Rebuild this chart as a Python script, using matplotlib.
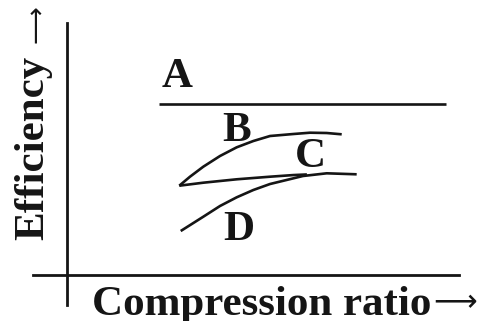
import numpy as np
import matplotlib.pyplot as plt

# efficiency vs compression ratio (arbitrary units)
a_x = [2.35, 9.67]
a_y = [6.79, 6.79]

b_x = [2.865, 3.138, 3.477, 3.903, 4.329, 4.753, 5.179, 5.773, 6.199, 6.625, 7.008]
b_y = [3.544, 3.901, 4.298, 4.722, 5.067, 5.317, 5.516, 5.595, 5.647, 5.635, 5.583]

c_x = [2.865, 3.477, 4.329, 5.179, 5.773, 6.12]
c_y = [3.544, 3.663, 3.798, 3.901, 3.966, 3.99]

d_x = [2.901, 3.477, 3.903, 4.329, 4.753, 5.179, 6.020, 6.625, 7.390]
d_y = [1.746, 2.313, 2.738, 3.083, 3.373, 3.611, 3.929, 4.036, 3.996]

labels = ['A', 'B', 'C', 'D']
label_x = [2.81, 4.34, 6.20, 4.375]
label_y = [7.46, 5.32, 4.30, 1.39]

serif = ['Liberation Serif', 'DejaVu Serif']
ink = '#151515'

fig = plt.figure(figsize=(4.78, 3.21), dpi=100)
ax = fig.add_axes([0, 0, 1, 1])
ax.set_xlim(-1.709, 10.485)
ax.set_ylim(-1.825, 10.913)

# axes drawn as crossing lines through the origin
for s in ['top', 'right']:
    ax.spines[s].set_visible(False)
ax.spines['left'].set_position(('data', 0))
ax.spines['bottom'].set_position(('data', 0))
ax.spines['left'].set_bounds(-1.19, 10)
ax.spines['bottom'].set_bounds(-0.87, 10)
for s in ['left', 'bottom']:
    ax.spines[s].set_linewidth(2.0)
    ax.spines[s].set_color(ink)
ax.set_xticks([])
ax.set_yticks([])

for xs, ys in [(a_x, a_y), (b_x, b_y), (c_x, c_y), (d_x, d_y)]:
    ax.plot(xs, ys, color=ink, lw=1.9, solid_capstyle='butt',
            solid_joinstyle='round')

for t, x, y in zip(labels, label_x, label_y):
    ax.text(x, y, t, ha='center', va='baseline', fontsize=31,
            fontweight='bold', family=serif, color=ink)

fig.text(92 / 478, 1 - 315 / 321, 'Compression ratio', ha='left', va='baseline',
         fontsize=31, fontweight='bold', family=serif, color=ink)
fig.text(477 / 478, 1 - 303 / 321, '\u27f6', ha='right', va='center',
         fontsize=22, family='DejaVu Sans', color=ink)
fig.text(43 / 478, 1 - 240 / 321, 'Efficiency', ha='left', va='baseline',
         rotation=90, rotation_mode='anchor', fontsize=31, fontweight='bold',
         family=serif, color=ink)
fig.text(37 / 478, 1 - 43 / 321, '\u27f6', ha='left', va='center',
         rotation=90, rotation_mode='anchor', fontsize=19,
         family='DejaVu Sans', color=ink)

fig.savefig('out.png', dpi=100)
